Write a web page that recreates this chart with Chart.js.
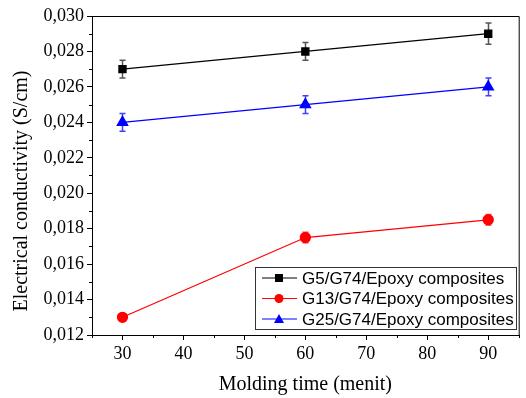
<!DOCTYPE html>
<html>
<head>
<meta charset="utf-8">
<script src="https://cdn.jsdelivr.net/npm/chart.js@4/dist/chart.umd.min.js"></script>
<style>
  html, body { margin: 0; padding: 0; background: #fff; }
  #wrap { width: 526px; height: 398px; }
</style>
</head>
<body>
<div id="wrap"><canvas id="myChart" width="526" height="398"></canvas></div>
<script>
'use strict';

// molding time (menit)
let moldingTimes = [30, 60, 90];
let xTickValues = [30, 40, 50, 60, 70, 80, 90];

let g5Values = [0.0270, 0.0280, 0.0290];
let g5Errors = [0.0005, 0.0005, 0.0006];

let g13Values = [0.0130, 0.0175, 0.0185];
let g13Errors = [0.0002, 0.0003, 0.0003];

let g25Values = [0.0240, 0.0250, 0.0260];
let g25Errors = [0.0005, 0.0005, 0.0005];

let seriesNames = ['G5/G74/Epoxy composites', 'G13/G74/Epoxy composites', 'G25/G74/Epoxy composites'];

let serif = '"Liberation Serif", "Times New Roman", serif';

function toPoints(values) {
    return values.map((v, i) => ({ x: moldingTimes[i], y: v }));
}

// error bars, drawn from the scales, under the markers
let errorBarPlugin = {
    id: 'errorBars',
    beforeDatasetsDraw(chart) {
        let ctx = chart.ctx;
        let xs = chart.scales.x;
        let ys = chart.scales.y;
        chart.data.datasets.forEach(ds => {
            ctx.save();
            ctx.strokeStyle = ds.errColor;
            ctx.lineWidth = 1.5;
            ds.data.forEach((p, i) => {
                let px = Math.round(xs.getPixelForValue(p.x)) + 0.5;
                let top = ys.getPixelForValue(p.y + ds.errors[i]);
                let bot = ys.getPixelForValue(p.y - ds.errors[i]);
                ctx.beginPath();
                ctx.moveTo(px, top); ctx.lineTo(px, bot);
                ctx.moveTo(px - 3, top); ctx.lineTo(px + 3, top);
                ctx.moveTo(px - 3, bot); ctx.lineTo(px + 3, bot);
                ctx.stroke();
            });
            ctx.restore();
        });
    }
};

// frame, minor ticks, axis titles and the boxed legend inside the plot
let framePlugin = {
    id: 'frame',
    afterDraw(chart) {
        let ctx = chart.ctx;
        let a = chart.chartArea;
        let xs = chart.scales.x;
        let ys = chart.scales.y;
        ctx.save();
        ctx.strokeStyle = '#000';
        ctx.lineWidth = 1;
        ctx.beginPath();
        ctx.moveTo(a.left, a.top + 0.5); ctx.lineTo(a.right + 0.5, a.top + 0.5);
        ctx.lineTo(a.right + 0.5, a.bottom);
        ctx.stroke();

        // minor ticks
        ctx.beginPath();
        for (let v = 0.013; v < 0.030; v += 0.002) {
            let py = Math.round(ys.getPixelForValue(v)) + 0.5;
            ctx.moveTo(a.left, py); ctx.lineTo(a.left - 3, py);
        }
        for (let v = 25; v <= 95; v += 10) {
            let px = Math.round(xs.getPixelForValue(v)) + 0.5;
            ctx.moveTo(px, a.bottom); ctx.lineTo(px, a.bottom + 3);
        }
        ctx.stroke();

        // axis titles
        ctx.fillStyle = '#000';
        ctx.font = '20px ' + serif;
        ctx.textAlign = 'center';
        ctx.textBaseline = 'middle';
        ctx.fillText('Molding time (menit)', (a.left + a.right) / 2, 385);
        ctx.save();
        ctx.translate(22, 191);
        ctx.rotate(-Math.PI / 2);
        ctx.fillText('Electrical conductivity (S/cm)', 0, 0);
        ctx.restore();

        // legend
        let lx = 255, ly = 267, lw = 261, lh = 62;
        ctx.strokeStyle = '#333';
        ctx.strokeRect(lx + 0.5, ly + 0.5, lw, lh);
        ctx.font = '17px "Liberation Sans", Arial, sans-serif';
        ctx.textAlign = 'left';
        chart.data.datasets.forEach((ds, i) => {
            let ry = ly + 11 + i * 20.5;
            ctx.strokeStyle = ds.borderColor;
            ctx.lineWidth = 1.2;
            ctx.beginPath();
            ctx.moveTo(lx + 7, ry); ctx.lineTo(lx + 42, ry);
            ctx.stroke();
            ctx.fillStyle = ds.borderColor;
            let mx = lx + 24;
            ctx.beginPath();
            if (ds.pointStyle === 'rect') {
                ctx.rect(mx - 4, ry - 4, 8, 8);
            } else if (ds.pointStyle === 'circle') {
                ctx.arc(mx, ry, 4.5, 0, Math.PI * 2);
            } else {
                ctx.moveTo(mx, ry - 5); ctx.lineTo(mx + 5, ry + 4); ctx.lineTo(mx - 5, ry + 4); ctx.closePath();
            }
            ctx.fill();
            ctx.fillStyle = '#000';
            ctx.fillText(ds.label, lx + 47, ry + 1);
        });
        ctx.restore();
    }
};

let ctx = document.getElementById('myChart').getContext('2d');
let chart = new Chart(ctx, {
    type: 'line',
    data: {
        datasets: [{
            label: seriesNames[0],
            data: toPoints(g5Values),
            errors: g5Errors,
            errColor: '#555',
            borderColor: '#000',
            backgroundColor: '#000',
            pointStyle: 'rect',
            pointRadius: 5,
            borderWidth: 1.3
        },
        {
            label: seriesNames[1],
            data: toPoints(g13Values),
            errors: g13Errors,
            errColor: '#ff4040',
            borderColor: '#ff0000',
            backgroundColor: '#ff0000',
            pointStyle: 'circle',
            pointRadius: 5,
            borderWidth: 1.3
        },
        {
            label: seriesNames[2],
            data: toPoints(g25Values),
            errors: g25Errors,
            errColor: '#4040ff',
            borderColor: '#0000ff',
            backgroundColor: '#0000ff',
            pointStyle: 'triangle',
            pointRadius: 6,
            borderWidth: 1.3
        }]
    },
    options: {
        responsive: false,
        animation: false,
        layout: { padding: { top: 16, right: 5, left: 0, bottom: 0 } },
        plugins: {
            legend: { display: false },
            tooltip: { enabled: false }
        },
        scales: {
            x: {
                type: 'linear',
                min: 25,
                max: 95,
                afterBuildTicks(scale) {
                    scale.ticks = xTickValues.map(v => ({ value: v }));
                },
                afterFit(scale) { scale.height = 63; },
                grid: { drawOnChartArea: false, tickLength: 5, color: '#000' },
                border: { color: '#000', width: 1 },
                ticks: {
                    color: '#000',
                    padding: 3,
                    font: { family: serif, size: 18 }
                }
            },
            y: {
                min: 0.012,
                max: 0.030,
                ticks: {
                    stepSize: 0.002,
                    color: '#000',
                    padding: 3,
                    font: { family: serif, size: 18 },
                    callback: v => v.toFixed(3).replace('.', ',')
                },
                afterFit(scale) { scale.width = 92; },
                grid: { drawOnChartArea: false, tickLength: 5, color: '#000' },
                border: { color: '#000', width: 1 }
            }
        }
    },
    plugins: [errorBarPlugin, framePlugin]
});
</script>
</body>
</html>
